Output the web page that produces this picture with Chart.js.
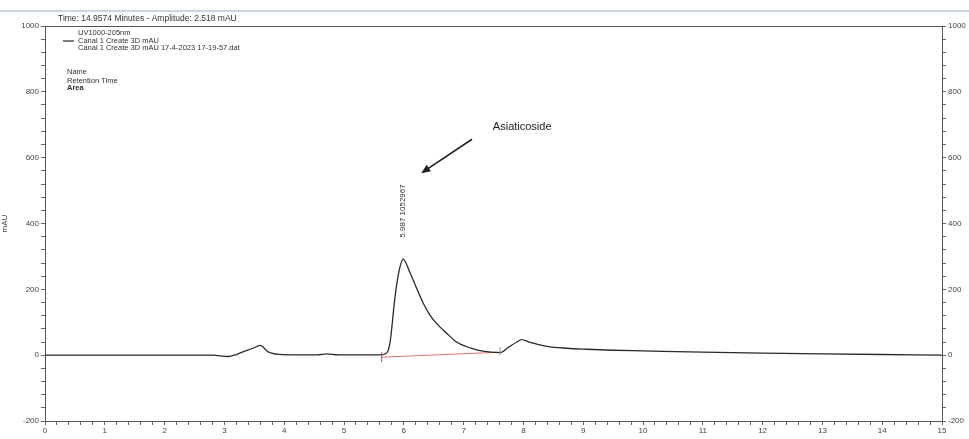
<!DOCTYPE html>
<html>
<head>
<meta charset="utf-8">
<script src="https://cdn.jsdelivr.net/npm/chart.js@4.4.0/dist/chart.umd.min.js"></script>
<style>
  body { margin: 0; background: #fff; }
  canvas { display: block; }
</style>
</head>
<body>
<canvas id="myChart" width="969" height="439"></canvas>
<script>
// chromatogram trace (minutes / mAU)
const times  = [0, 1, 2, 2.8, 3.06, 3.2, 3.31, 3.48, 3.6, 3.73, 3.88, 4.1, 4.55, 4.72, 4.9, 5.6, 5.71, 5.77, 5.85, 5.92, 5.99, 6.10, 6.22, 6.33, 6.44, 6.55, 6.72, 6.88, 7.11, 7.32, 7.61, 7.75, 7.89, 7.97, 8.11, 8.39, 8.73, 9.06, 9.5, 10, 11, 12, 13, 14, 15];
const signal = [0, 0, 0, 0, -4, 2, 10, 21, 30, 10, 3, 1, 1, 4, 1, 1, 6, 39, 172, 255, 292, 252, 201, 156, 121, 96, 66, 40, 22, 12, 8, 24, 40, 47, 39, 27, 21, 18, 15, 13, 9, 6, 4, 2, 0];

// integration baseline under the main peak
const baseTimes = [5.63, 7.61];
const baseValues = [-6, 9];

// axis ranges / tick labels
const xRange = [0, 15];
const yRange = [-200, 1000];
const yLabelStep = 200;

const titleText = 'Time: 14.9574 Minutes - Amplitude: 2.518 mAU';
const legendLines = ['UV1000-205nm', 'Canal 1 Create 3D mAU', 'Canal 1 Create 3D mAU 17-4-2023 17-19-57.dat'];
const infoLines = ['Name', 'Retention Time', 'Area'];
const peakLabel = '5.987 1052967';
const peakLabelPos = [5.99, 438];
const compoundName = 'Asiaticoside';
const compoundPos = [7.98, 692];
const arrowFrom = [7.14, 656];
const arrowTo = [6.29, 553];

const FONT = '"Liberation Sans", Arial, sans-serif';

const toXY = (ts, vs) => ts.map((t, i) => ({ x: t, y: vs[i] }));

const decor = {
    id: 'decor',
    afterDraw(chart) {
        const ctx = chart.ctx;
        const area = chart.chartArea;
        const xs = chart.scales.x, ys = chart.scales.y;
        ctx.save();
        // header separator
        ctx.strokeStyle = '#b9c9d9';
        ctx.lineWidth = 1.5;
        ctx.beginPath();
        ctx.moveTo(0, 11);
        ctx.lineTo(969, 11);
        ctx.stroke();

        ctx.fillStyle = '#333';
        ctx.textBaseline = 'middle';
        ctx.font = '8.5px ' + FONT;
        ctx.fillText(titleText, area.left + 13, 19);

        ctx.font = '7.5px ' + FONT;
        ctx.fillText(legendLines[0], area.left + 33, area.top + 7);
        ctx.fillText(legendLines[1], area.left + 33, area.top + 15);
        ctx.fillText(legendLines[2], area.left + 33, area.top + 22);
        ctx.strokeStyle = '#222';
        ctx.lineWidth = 1.2;
        ctx.beginPath();
        ctx.moveTo(area.left + 18, area.top + 15);
        ctx.lineTo(area.left + 29, area.top + 15);
        ctx.stroke();
        ctx.fillText(infoLines[0], area.left + 22, area.top + 46);
        ctx.fillText(infoLines[1], area.left + 22, area.top + 55);
        ctx.font = 'bold 7.5px ' + FONT;
        ctx.fillText(infoLines[2], area.left + 22, area.top + 62);

        // rotated peak label
        ctx.save();
        ctx.translate(xs.getPixelForValue(peakLabelPos[0]), ys.getPixelForValue(peakLabelPos[1]));
        ctx.rotate(-Math.PI / 2);
        ctx.textAlign = 'center';
        ctx.font = '8px ' + FONT;
        ctx.fillText(peakLabel, 0, 0);
        ctx.restore();

        // compound name + arrow
        ctx.textAlign = 'center';
        ctx.font = '11px ' + FONT;
        ctx.fillStyle = '#222';
        ctx.fillText(compoundName, xs.getPixelForValue(compoundPos[0]), ys.getPixelForValue(compoundPos[1]));
        const x1 = xs.getPixelForValue(arrowFrom[0]), y1 = ys.getPixelForValue(arrowFrom[1]);
        const x2 = xs.getPixelForValue(arrowTo[0]), y2 = ys.getPixelForValue(arrowTo[1]);
        const ang = Math.atan2(y2 - y1, x2 - x1);
        ctx.strokeStyle = '#222';
        ctx.lineWidth = 1.6;
        ctx.beginPath();
        ctx.moveTo(x1, y1);
        ctx.lineTo(x2 - 6 * Math.cos(ang), y2 - 6 * Math.sin(ang));
        ctx.stroke();
        ctx.beginPath();
        ctx.moveTo(x2, y2);
        ctx.lineTo(x2 - 10 * Math.cos(ang - 0.4), y2 - 10 * Math.sin(ang - 0.4));
        ctx.lineTo(x2 - 10 * Math.cos(ang + 0.4), y2 - 10 * Math.sin(ang + 0.4));
        ctx.closePath();
        ctx.fill();

        // baseline markers
        ctx.strokeStyle = '#d04040';
        ctx.lineWidth = 1;
        const bx = xs.getPixelForValue(baseTimes[0]), by = ys.getPixelForValue(baseValues[0]);
        ctx.beginPath();
        ctx.moveTo(bx, by - 5);
        ctx.lineTo(bx, by + 5);
        ctx.stroke();
        ctx.strokeStyle = '#7a9a7a';
        const ex = xs.getPixelForValue(baseTimes[1]), ey = ys.getPixelForValue(baseValues[1]);
        ctx.beginPath();
        ctx.moveTo(ex, ey - 5);
        ctx.lineTo(ex, ey + 3);
        ctx.stroke();
        ctx.restore();
    }
};

const tickFont = { family: FONT, size: 8 };
const axisGrid = { display: true, drawOnChartArea: false, drawTicks: true, tickLength: 4, color: '#666' };
const yTicks = {
    stepSize: 40,
    autoSkip: false,
    color: '#444',
    font: tickFont,
    padding: 2,
    callback: v => (Math.abs(v % yLabelStep) < 1e-6 ? String(v) : '')
};

const ctx = document.getElementById('myChart');
new Chart(ctx, {
    type: 'scatter',
    data: {
        datasets: [{
            label: 'trace',
            data: toXY(times, signal),
            showLine: true,
            pointRadius: 0,
            borderColor: '#2a2a2a',
            borderWidth: 1.3,
            cubicInterpolationMode: 'monotone',
            xAxisID: 'x',
            yAxisID: 'y'
        }, {
            label: 'baseline',
            data: toXY(baseTimes, baseValues),
            showLine: true,
            pointRadius: 0,
            borderColor: '#e07070',
            borderWidth: 1,
            xAxisID: 'x',
            yAxisID: 'y'
        }]
    },
    options: {
        responsive: false,
        animation: false,
        layout: { padding: 0 },
        plugins: { legend: { display: false }, tooltip: { enabled: false } },
        scales: {
            x: {
                type: 'linear',
                position: 'bottom',
                min: xRange[0],
                max: xRange[1],
                grid: axisGrid,
                border: { color: '#555', width: 1 },
                ticks: {
                    stepSize: 0.2,
                    autoSkip: false,
                    maxRotation: 0,
                    color: '#444',
                    font: tickFont,
                    padding: 1,
                    callback: v => (Math.abs(v - Math.round(v)) < 1e-6 ? String(Math.round(v)) : '')
                },
                afterFit: s => { s.height = 18; }
            },
            xTop: {
                type: 'linear',
                position: 'top',
                min: xRange[0],
                max: xRange[1],
                grid: { display: false },
                border: { display: true, color: '#555', width: 1 },
                ticks: { display: false },
                afterFit: s => { s.height = 26; }
            },
            y: {
                position: 'left',
                min: yRange[0],
                max: yRange[1],
                grid: axisGrid,
                border: { color: '#555', width: 1 },
                ticks: yTicks,
                title: { display: true, text: 'mAU', color: '#444', font: tickFont, padding: 0 },
                afterFit: s => { s.width = 45; }
            },
            y2: {
                position: 'right',
                min: yRange[0],
                max: yRange[1],
                grid: axisGrid,
                border: { color: '#555', width: 1 },
                ticks: yTicks,
                afterFit: s => { s.width = 27; }
            }
        }
    },
    plugins: [decor]
});
</script>
</body>
</html>
